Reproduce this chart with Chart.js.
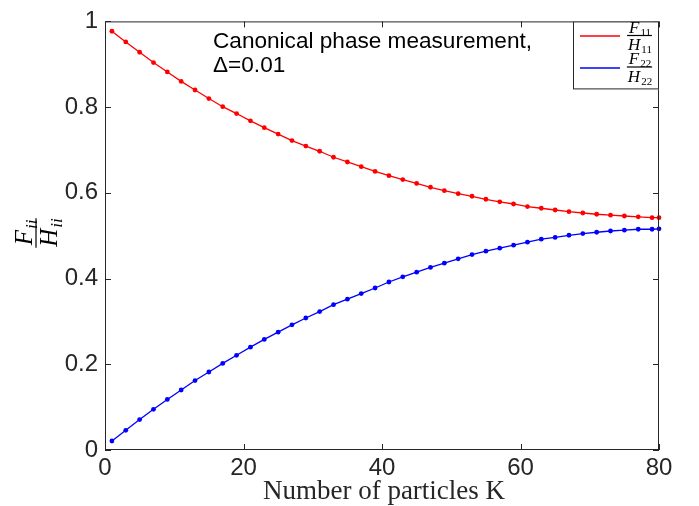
<!DOCTYPE html>
<html>
<head>
<meta charset="utf-8">
<script src="https://cdn.jsdelivr.net/npm/chart.js@4/dist/chart.umd.min.js"></script>
<style>
  html, body { margin: 0; padding: 0; background: #fff; }
  #wrap { width: 699px; height: 506px; }
</style>
</head>
<body>
<div id="wrap"><canvas id="chart1" width="699" height="506"></canvas></div>
<script>
// number of particles K
const kValues = [1, 3, 5, 7, 9, 11, 13, 15, 17, 19, 21, 23, 25, 27, 29, 31, 33,
    35, 37, 39, 41, 43, 45, 47, 49, 51, 53, 55, 57, 59, 61, 63, 65, 67, 69, 71, 73, 75, 77, 79, 80];

// F11/H11
const redValues = [0.977, 0.952, 0.928, 0.904, 0.882, 0.860, 0.840, 0.820, 0.801, 0.785, 0.768,
    0.752, 0.737, 0.722, 0.709, 0.697, 0.683, 0.672, 0.661, 0.650, 0.640, 0.631, 0.622, 0.613,
    0.605, 0.598, 0.592, 0.585, 0.579, 0.574, 0.568, 0.564, 0.560, 0.556, 0.553, 0.550, 0.548,
    0.546, 0.544, 0.542, 0.542];

// F22/H22
const blueValues = [0.021, 0.046, 0.071, 0.095, 0.118, 0.140, 0.162, 0.182, 0.202, 0.221, 0.240,
    0.258, 0.275, 0.292, 0.308, 0.323, 0.339, 0.352, 0.365, 0.378, 0.392, 0.404, 0.415, 0.426,
    0.436, 0.446, 0.456, 0.464, 0.471, 0.478, 0.485, 0.492, 0.496, 0.501, 0.505, 0.508, 0.511,
    0.513, 0.515, 0.515, 0.516];

const xTicks = [0, 20, 40, 60, 80];
const yTicks = [0, 0.2, 0.4, 0.6, 0.8, 1];

const axisColor = '#262626';
const sansFont = '"Liberation Sans", Arial, sans-serif';
const serifFont = '"Liberation Serif", "Times New Roman", serif';

// draws a fraction  top_sub / bottom_sub  centred on (0,0)
function drawFraction(ctx, num, numSub, den, denSub, size, subSize, gap, subItalic) {
    const subStyle = subItalic ? 'italic ' : '';
    ctx.textBaseline = 'alphabetic';
    ctx.textAlign = 'left';
    ctx.font = 'italic ' + size + 'px ' + serifFont;
    const wNum = ctx.measureText(num).width;
    const wDen = ctx.measureText(den).width;
    ctx.font = subStyle + subSize + 'px ' + serifFont;
    const wNumSub = ctx.measureText(numSub).width;
    const wDenSub = ctx.measureText(denSub).width;
    const topW = wNum + wNumSub;
    const botW = wDen + wDenSub;
    const barW = Math.max(topW, botW) + 2;

    ctx.fillStyle = '#000';
    ctx.fillRect(-barW / 2, -0.6, barW, 1.2);

    let x = -topW / 2;
    ctx.font = 'italic ' + size + 'px ' + serifFont;
    ctx.fillText(num, x, -gap);
    ctx.font = subStyle + subSize + 'px ' + serifFont;
    ctx.fillText(numSub, x + wNum + 1, -gap + size * 0.18);

    x = -botW / 2;
    const baseDen = gap + size * 0.68;
    ctx.font = 'italic ' + size + 'px ' + serifFont;
    ctx.fillText(den, x, baseDen);
    ctx.font = subStyle + subSize + 'px ' + serifFont;
    ctx.fillText(denSub, x + wDen + 1, baseDen + size * 0.18);
}

const decorations = {
    id: 'decorations',
    afterDraw(chart) {
        const ctx = chart.ctx;
        const area = chart.chartArea;
        const xs = chart.scales.x;
        const ys = chart.scales.y;
        ctx.save();

        // axes box
        ctx.strokeStyle = axisColor;
        ctx.lineWidth = 1;
        ctx.strokeRect(area.left + 0.5, area.top + 0.5, area.right - area.left - 1, area.bottom - area.top - 1);

        // inward tick marks on all four sides
        const tl = 6;
        ctx.beginPath();
        xTicks.forEach(v => {
            const px = Math.round(xs.getPixelForValue(v)) + 0.5;
            ctx.moveTo(px, area.bottom);
            ctx.lineTo(px, area.bottom - tl);
            ctx.moveTo(px, area.top);
            ctx.lineTo(px, area.top + tl);
        });
        yTicks.forEach(v => {
            const py = Math.round(ys.getPixelForValue(v)) + 0.5;
            ctx.moveTo(area.left, py);
            ctx.lineTo(area.left + tl, py);
            ctx.moveTo(area.right, py);
            ctx.lineTo(area.right - tl, py);
        });
        ctx.stroke();

        // annotation
        ctx.fillStyle = '#000';
        ctx.font = '22.6px ' + sansFont;
        ctx.textAlign = 'left';
        ctx.textBaseline = 'alphabetic';
        ctx.fillText('Canonical phase measurement,', 213, 48);
        ctx.fillText('\u0394=0.01', 213, 72);

        // legend
        const lx = 573, ly = area.top, lw = area.right - 573, lh = 68;
        ctx.fillStyle = '#fff';
        ctx.fillRect(lx, ly, lw, lh);
        ctx.strokeStyle = axisColor;
        ctx.strokeRect(lx + 0.5, ly + 0.5, lw - 1, lh - 1);
        ctx.lineWidth = 1.3;
        ctx.strokeStyle = '#ff0000';
        ctx.beginPath();
        ctx.moveTo(580, 36); ctx.lineTo(620, 36);
        ctx.stroke();
        ctx.strokeStyle = '#0000ff';
        ctx.beginPath();
        ctx.moveTo(580, 68); ctx.lineTo(620, 68);
        ctx.stroke();
        ctx.save();
        ctx.translate(639.5, 35.5);
        drawFraction(ctx, 'F', '11', 'H', '11', 17, 11, 3, false);
        ctx.restore();
        ctx.save();
        ctx.translate(639.5, 67);
        drawFraction(ctx, 'F', '22', 'H', '22', 17, 11, 3, false);
        ctx.restore();

        // x axis title
        ctx.fillStyle = axisColor;
        ctx.font = '27px ' + serifFont;
        ctx.textAlign = 'center';
        ctx.textBaseline = 'alphabetic';
        ctx.fillText('Number of particles K', (area.left + area.right) / 2 + 2, 499);

        // y axis title (rotated fraction)
        ctx.save();
        ctx.translate(36, 233);
        ctx.rotate(-Math.PI / 2);
        drawFraction(ctx, 'F', 'ii', 'H', 'ii', 25, 17, 4, true);
        ctx.restore();

        ctx.restore();
    }
};

const ctx1 = document.getElementById('chart1').getContext('2d');

const chart1 = new Chart(ctx1, {
    type: 'line',
    data: {
        datasets: [{
            label: 'F11/H11',
            data: kValues.map((k, i) => ({ x: k, y: redValues[i] })),
            borderColor: '#ff0000',
            backgroundColor: '#ff0000',
            borderWidth: 1.3,
            pointRadius: 2.4,
            pointBorderWidth: 0,
            tension: 0,
            clip: false
        }, {
            label: 'F22/H22',
            data: kValues.map((k, i) => ({ x: k, y: blueValues[i] })),
            borderColor: '#0000ff',
            backgroundColor: '#0000ff',
            borderWidth: 1.3,
            pointRadius: 2.4,
            pointBorderWidth: 0,
            tension: 0,
            clip: false
        }]
    },
    options: {
        responsive: false,
        animation: false,
        layout: { padding: { left: 0, right: 40, top: 18, bottom: 0 } },
        plugins: {
            legend: { display: false },
            tooltip: { enabled: false }
        },
        scales: {
            x: {
                type: 'linear',
                min: 0,
                max: 80,
                afterFit(scale) { scale.height = 56; },
                afterBuildTicks(scale) { scale.ticks = xTicks.map(v => ({ value: v })); },
                grid: { display: false, drawTicks: false },
                border: { display: false },
                ticks: {
                    padding: 4,
                    color: axisColor,
                    maxRotation: 0,
                    font: { family: sansFont, size: 24 }
                }
            },
            y: {
                type: 'linear',
                min: 0,
                max: 1,
                afterFit(scale) { scale.width = 105; },
                afterBuildTicks(scale) { scale.ticks = yTicks.map(v => ({ value: v })); },
                grid: { display: false, drawTicks: false },
                border: { display: false },
                ticks: {
                    padding: 7,
                    color: axisColor,
                    font: { family: sansFont, size: 24 },
                    callback: v => String(Math.round(v * 10) / 10)
                }
            }
        }
    },
    plugins: [decorations]
});
</script>
</body>
</html>
